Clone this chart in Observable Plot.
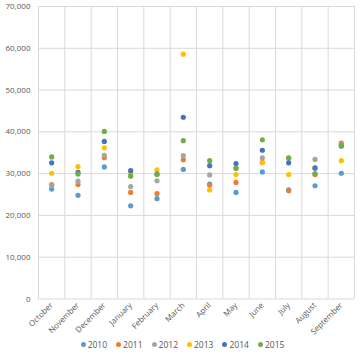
<!DOCTYPE html>
<html><head><meta charset="utf-8">
<script src="https://cdn.jsdelivr.net/npm/d3@7"></script>
<script src="https://cdn.jsdelivr.net/npm/@observablehq/plot@0.6"></script>
<style>
body{margin:0;background:#fff;font-family:"Open Sans",sans-serif;}
#legend{display:flex;justify-content:center;gap:9px;font-size:8.5px;color:#595959;margin-top:4px;padding-left:2px}
#legend span{display:flex;align-items:center;gap:2px}
#legend i{display:inline-block;width:5px;height:5px;border-radius:50%}
</style></head><body>
<div id="chart"></div>
<div id="legend"></div>
<script>
const months = ["October","November","December","January","February","March","April","May","June","July","August","September"];
const years = ["2010","2011","2012","2013","2014","2015"];
const colors = ["#5B9BD5","#ED7D31","#A5A5A5","#FFC000","#4472C4","#70AD47"];
const v2010 = [26300,24800,31600,22300,24000,31000,27500,25500,30400,26100,27100,30100];
const v2011 = [27400,27400,33800,25500,25200,33300,27200,27900,32700,25900,29800,37300];
const v2012 = [27200,28200,34400,26900,28300,34300,29700,31200,33800,33600,33400,36900];
const v2013 = [30100,31700,36200,30000,30900,58600,26100,29800,32600,29800,31500,33100];
const v2014 = [32600,30300,37700,30700,29900,43500,31900,32400,35600,32600,31300,36600];
const v2015 = [34000,29900,40100,29400,29800,37900,33100,31400,38100,33800,30000,36700];
const series = [v2010,v2011,v2012,v2013,v2014,v2015];
const yTicks = [0,10000,20000,30000,40000,50000,60000,70000];

const data = [];
series.forEach((vals, s) => vals.forEach((v, i) => data.push({year: years[s], idx: i + 0.5, value: v})));

const grid = "#d9d9d9";
const plot = Plot.plot({
  width: 363, height: 335,
  marginLeft: 38, marginRight: 9, marginTop: 6, marginBottom: 36.5,
  style: {fontFamily: "Open Sans, sans-serif", fontSize: "8px", color: "#595959", background: "#fff"},
  x: {domain: [0, months.length], axis: null, label: null},
  y: {domain: [0, 70000], axis: null, label: null},
  color: {domain: years, range: colors},
  marks: [
    Plot.ruleY(yTicks, {stroke: grid, strokeWidth: 1}),
    Plot.ruleX(d3.range(months.length + 1), {stroke: grid, strokeWidth: 1}),
    Plot.axisY({ticks: yTicks, tickSize: 0, tickPadding: 8, tickFormat: d3.format(","), fill: "#595959", label: null}),
    Plot.axisX({ticks: months.map((m, i) => i + 0.5), tickFormat: d => months[Math.floor(d)], tickSize: 0, tickPadding: 5, tickRotate: -45, fill: "#595959", label: null}),
    Plot.dot(data, {x: "idx", y: "value", fill: "year", r: 2.6, stroke: null})
  ]
});
document.getElementById("chart").appendChild(plot);

const lg = document.getElementById("legend");
years.forEach((y, i) => {
  const s = document.createElement("span");
  const c = document.createElement("i");
  c.style.background = colors[i];
  s.appendChild(c);
  s.appendChild(document.createTextNode(y));
  lg.appendChild(s);
});
</script>
</body></html>
